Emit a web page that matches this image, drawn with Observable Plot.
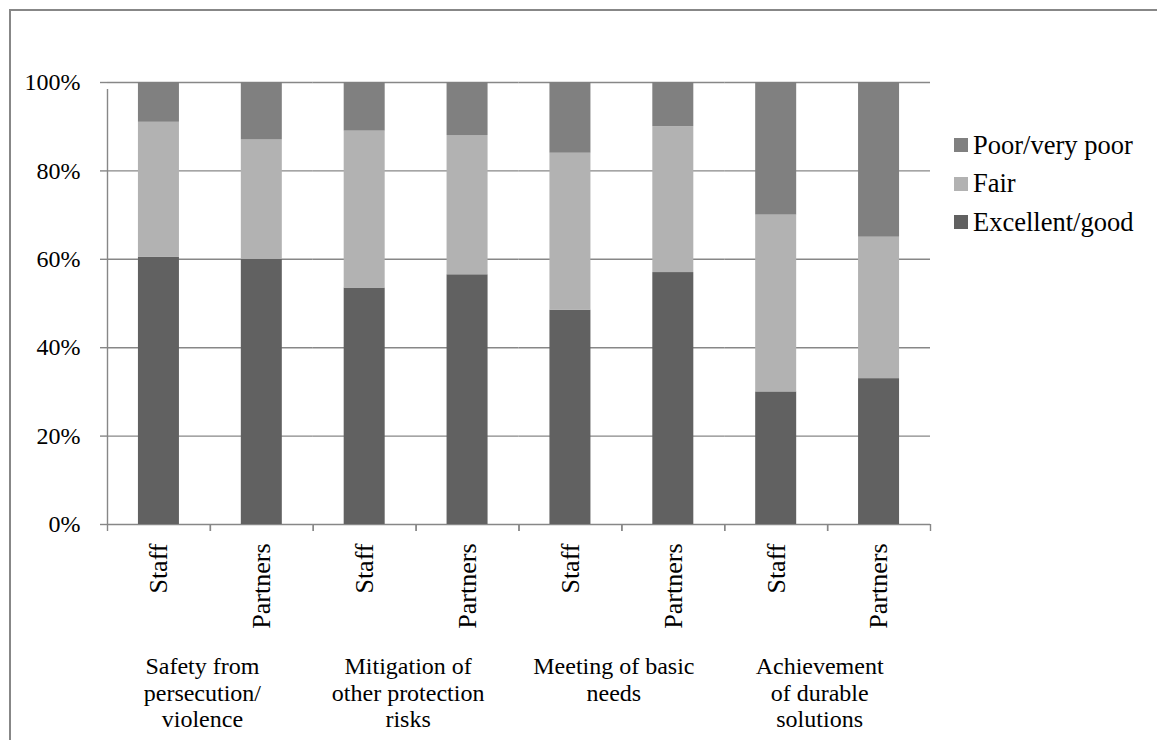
<!DOCTYPE html>
<html>
<head>
<meta charset="utf-8">
<script src="https://cdn.jsdelivr.net/npm/d3@7"></script>
<script src="https://cdn.jsdelivr.net/npm/@observablehq/plot@0.6"></script>
<style>
  html, body { margin: 0; padding: 0; background: #fff; }
  #wrap { position: relative; width: 1157px; height: 740px; overflow: hidden; }
  #frame { position: absolute; left: 9px; top: 9px; width: 1200px; height: 800px;
           border-left: 2px solid #878787; border-top: 2px solid #878787; pointer-events: none; }
  #legend { position: absolute; left: 954px; top: 126px;
            font-family: "Liberation Serif", "Times New Roman", serif;
            font-size: 26.5px; color: #000; }
  .row { display: flex; align-items: center; height: 38.5px; }
  .sw { width: 14px; height: 14px; margin-right: 5px; }
</style>
</head>
<body>
<div id="wrap">
  <div id="chart"></div>
  <div id="legend"></div>
  <div id="frame"></div>
</div>
<script>
// ---- data ----
const groups = [
  "Safety from persecution/violence",
  "Mitigation of other protection risks",
  "Meeting of basic needs",
  "Achievement of durable solutions"
];
const groupLabels = [
  "Safety from\npersecution/\nviolence",
  "Mitigation of\nother protection\nrisks",
  "Meeting of basic\nneeds",
  "Achievement\nof durable\nsolutions"
];
const respondents = ["Staff", "Partners"];
const series = ["Excellent/good", "Fair", "Poor/very poor"];
const seriesColors = ["#616161", "#b2b2b2", "#808080"];
// order: Safety Staff, Safety Partners, Mitigation Staff, Mitigation Partners,
//        Basic Staff, Basic Partners, Durable Staff, Durable Partners
const excellent = [60.5, 60, 53.5, 56.5, 48.5, 57, 30, 33];
const fair      = [30.5, 27, 35.5, 31.5, 35.5, 33, 40, 32];
const poor      = [9, 13, 11, 12, 16, 10, 30, 35];
const yTicks = [0, 20, 40, 60, 80, 100];

// ---- tidy table ----
const valuesBySeries = [excellent, fair, poor];
const rows = [];
const cats = [];
groups.forEach((g, gi) => {
  respondents.forEach((r, ri) => {
    const k = gi * respondents.length + ri;
    cats.push({group: g, respondent: r});
    series.forEach((s, si) => rows.push({group: g, respondent: r, series: s, value: valuesBySeries[si][k]}));
  });
});

// ---- layout ----
const W = 1157, H = 740;
const mL = 107, mR = 227, mT = 82, mB = 216;
const step = (W - mL - mR) / (groups.length * respondents.length);
const barW = 41;
const inset = (step - barW) / 2;
const gray = "#878787";
const serifFont = "'Liberation Serif', 'Times New Roman', serif";

const chart = Plot.plot({
  width: W, height: H,
  marginLeft: mL, marginRight: mR, marginTop: mT, marginBottom: mB,
  style: {fontFamily: serifFont, fontSize: "24px", color: "#000", background: "transparent", overflow: "visible"},
  fx: {domain: groups, padding: 0, round: false, label: null},
  x: {domain: respondents, padding: 0, round: false, label: null},
  y: {domain: [0, 100], label: null},
  color: {domain: series, range: seriesColors},
  marks: [
    Plot.gridY(yTicks, {stroke: gray, strokeOpacity: 1, strokeWidth: 1.4}),
    Plot.barY(rows, Plot.stackY({
      fx: "group", x: "respondent", y: "value", fill: "series",
      order: series, insetLeft: inset, insetRight: inset
    })),
    // y axis line
    Plot.ruleX([cats[0]], {fx: "group", x: "respondent", dx: -step / 2, y1: 0, y2: 100, insetBottom: -7, stroke: gray, strokeWidth: 1.4}),
    // x category boundary ticks
    Plot.ruleX(cats, {fx: "group", x: "respondent", dx: -step / 2, y1: 0, y2: 0, insetBottom: -7, stroke: gray, strokeWidth: 1.4}),
    Plot.ruleX(cats, {fx: "group", x: "respondent", dx: step / 2, y1: 0, y2: 0, insetBottom: -7, stroke: gray, strokeWidth: 1.4}),
    Plot.axisY({ticks: yTicks, tickSize: 7, text: null, stroke: gray, strokeWidth: 1.4, label: null}),
    Plot.axisY({ticks: yTicks, tickSize: 0, tickPadding: 27, tickFormat: d => d + "%", fill: "#000", label: null}),
    Plot.axisX({tickSize: 0, tickRotate: -90, tickPadding: 19, fontSize: 26, fill: "#000", label: null}),
    Plot.axisFx({anchor: "bottom", tickSize: 0, tickPadding: 131, lineHeight: 1.1, dx: -8,
                 tickFormat: g => groupLabels[groups.indexOf(g)], fill: "#000", label: null})
  ]
});
document.getElementById("chart").appendChild(chart);

// ---- legend (top to bottom: reverse of stack order) ----
const legend = document.getElementById("legend");
series.slice().reverse().forEach(s => {
  const row = document.createElement("div");
  row.className = "row";
  const sw = document.createElement("div");
  sw.className = "sw";
  sw.style.background = seriesColors[series.indexOf(s)];
  const t = document.createElement("span");
  t.textContent = s;
  row.appendChild(sw); row.appendChild(t);
  legend.appendChild(row);
});
</script>
</body>
</html>
